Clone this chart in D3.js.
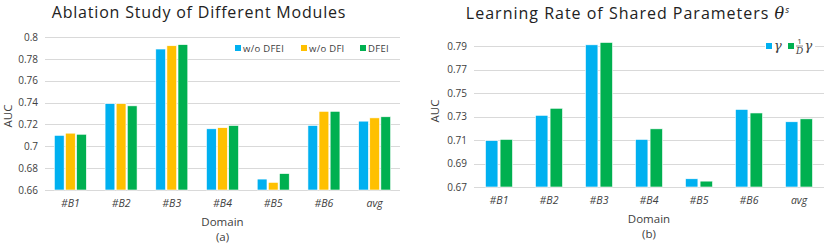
<!DOCTYPE html>
<meta charset="utf-8">
<style>
body { margin: 0; background: #fff; }
text { font-family: "Open Sans", "Noto Sans", sans-serif; fill: #404040; }
.grid line { stroke: #d9d9d9; stroke-width: 1px; }
.tick text { font-size: 10px; }
.xlab .tick text { font-style: italic; font-size: 10.5px; }
</style>
<body>
<svg id="chart" width="830" height="244"></svg>
<script src="https://d3js.org/d3.v7.min.js"></script>
<script>

// data
var domains = ["#B1", "#B2", "#B3", "#B4", "#B5", "#B6", "avg"];

// (a) ablation
var ablationKeys = ["w/o DFEI", "w/o DFI", "DFEI"];
var woDFEI = [0.710, 0.739, 0.789, 0.716, 0.670, 0.719, 0.723];
var woDFI  = [0.712, 0.739, 0.792, 0.717, 0.667, 0.732, 0.726];
var dfei   = [0.711, 0.737, 0.793, 0.719, 0.675, 0.732, 0.727];
var ablationTicks = [0.66, 0.68, 0.7, 0.72, 0.74, 0.76, 0.78, 0.8];

// (b) learning rate
var gamma    = [0.7095, 0.731, 0.791, 0.7105, 0.677, 0.736, 0.7255];
var gammaD   = [0.7105, 0.737, 0.793, 0.7195, 0.675, 0.733, 0.728];
var lrTicks  = [0.67, 0.69, 0.71, 0.73, 0.75, 0.77, 0.79];

var blue = "#00b0f0", yellow = "#ffc000", green = "#00b050";

var svg = d3.select("#chart");

function drawChart(opt) {
  var g = svg.append("g");

  var x = d3.scaleBand().domain(domains).range([opt.x0, opt.x1]);
  var y = d3.scaleLinear().domain(opt.ydom).range(opt.yrange);

  // gridlines
  g.append("g").attr("class", "grid")
    .selectAll("line").data(opt.ticks).enter().append("line")
      .attr("x1", opt.x0).attr("x2", opt.x1)
      .attr("y1", function(d) { return Math.round(y(d)) + 0.5; })
      .attr("y2", function(d) { return Math.round(y(d)) + 0.5; });

  // y axis labels
  var ya = g.append("g")
    .attr("transform", "translate(" + opt.x0 + ",0)")
    .call(d3.axisLeft(y).tickValues(opt.ticks).tickSize(0).tickPadding(7)
      .tickFormat(function(d) { return d3.format("")(+d.toFixed(2)); }));
  ya.select(".domain").remove();

  // bars
  var x1 = d3.scaleBand().domain(d3.range(opt.series.length))
    .range([0, opt.groupW]).paddingInner(opt.inner);

  opt.series.forEach(function(s, si) {
    g.append("g").selectAll("rect").data(s.values).enter().append("rect")
      .attr("x", function(d, i) { return x(domains[i]) + (x.bandwidth() - opt.groupW) / 2 + x1(si); })
      .attr("width", x1.bandwidth())
      .attr("y", function(d) { return y(d); })
      .attr("height", function(d) { return y(opt.ydom[0]) - y(d); })
      .attr("fill", s.color)
      .attr("stroke", "#fff").attr("stroke-width", 0.6);
  });

  // x axis labels
  var xa = g.append("g").attr("class", "xlab")
    .attr("transform", "translate(0," + y(opt.ydom[0]) + ")")
    .call(d3.axisBottom(x).tickSize(0).tickPadding(opt.xpad));
  xa.select(".domain").remove();

  // axis titles
  var cx = (opt.x0 + opt.x1) / 2;
  g.append("text").attr("x", cx).attr("y", opt.domainY)
    .attr("text-anchor", "middle").style("font-size", "11.5px").text("Domain");
  g.append("text").attr("x", cx).attr("y", opt.domainY + 15)
    .attr("text-anchor", "middle").style("font-size", "11.5px").text(opt.sub);
  g.append("text")
    .attr("transform", "translate(" + opt.aucX + "," + opt.aucY + ") rotate(-90)")
    .attr("text-anchor", "middle").style("font-size", "11.5px").text("AUC");

  return g;
}

// chart (a)
var ga = drawChart({
  x0: 45, x1: 400, ydom: [0.66, 0.8], yrange: [190, 37], ticks: ablationTicks,
  groupW: 32, inner: 0.12, xpad: 10, domainY: 226, sub: "(a)", aucX: 12, aucY: 116,
  series: [
    { values: woDFEI, color: blue },
    { values: woDFI, color: yellow },
    { values: dfei, color: green }
  ]
});
ga.append("text").attr("x", 199).attr("y", 18).attr("text-anchor", "middle")
  .style("font-size", "16px").style("letter-spacing", "0.8px").style("fill", "#222")
  .text("Ablation Study of Different Modules");

var legA = [{ k: ablationKeys[0], c: blue, x: 235 }, { k: ablationKeys[1], c: yellow, x: 301 }, { k: ablationKeys[2], c: green, x: 360 }];
var la = ga.append("g").selectAll("g").data(legA).enter().append("g")
  .attr("transform", function(d) { return "translate(" + d.x + ",48)"; });
la.append("rect").attr("x", 0).attr("y", -3).attr("width", 6).attr("height", 6)
  .attr("fill", function(d) { return d.c; });
la.append("text").attr("x", 8).attr("y", 3.5).style("font-size", "9.5px").style("letter-spacing", "0.3px")
  .text(function(d) { return d.k; });

// chart (b)
var gb = drawChart({
  x0: 474, x1: 824, ydom: [0.67, 0.79], yrange: [187, 46], ticks: lrTicks,
  groupW: 27, inner: 0.15, xpad: 10, domainY: 223, sub: "(b)", aucX: 439, aucY: 111,
  series: [
    { values: gamma, color: blue },
    { values: gammaD, color: green }
  ]
});
var tb = gb.append("text").attr("x", 628).attr("y", 19).attr("text-anchor", "middle")
  .style("font-size", "16px").style("letter-spacing", "1px").style("fill", "#222");
tb.append("tspan").text("Learning Rate of Shared Parameters ");
tb.append("tspan").style("font-style", "italic").style("font-family", "DejaVu Serif").text("θ");
tb.append("tspan").attr("dy", -6).style("font-size", "9px").style("font-style", "italic").text("s");

// legend (b) with white backing over the gridline
var lb = gb.append("g").attr("transform", "translate(766,46)");
lb.append("rect").attr("x", -1).attr("y", -10).attr("width", 50).attr("height", 20).attr("fill", "#fff");
lb.append("rect").attr("x", 0).attr("y", -3).attr("width", 6).attr("height", 6).attr("fill", blue);
lb.append("text").attr("x", 8).attr("y", 4).style("font-size", "13px").style("font-style", "italic")
  .style("font-family", "DejaVu Serif").text("γ");
lb.append("rect").attr("x", 22).attr("y", -3).attr("width", 6).attr("height", 6).attr("fill", green);
lb.append("text").attr("x", 33.5).attr("y", -2).attr("text-anchor", "middle").style("font-size", "8px").text("1");
lb.append("line").attr("x1", 30).attr("x2", 37).attr("y1", 0).attr("y2", 0).attr("stroke", "#404040").attr("stroke-width", 0.6);
lb.append("text").attr("x", 33.5).attr("y", 8).attr("text-anchor", "middle").style("font-size", "9px")
  .style("font-style", "italic").style("font-family", "DejaVu Serif").text("D");
lb.append("text").attr("x", 38.5).attr("y", 4).style("font-size", "13px").style("font-style", "italic")
  .style("font-family", "DejaVu Serif").text("γ");

</script>
</body>
